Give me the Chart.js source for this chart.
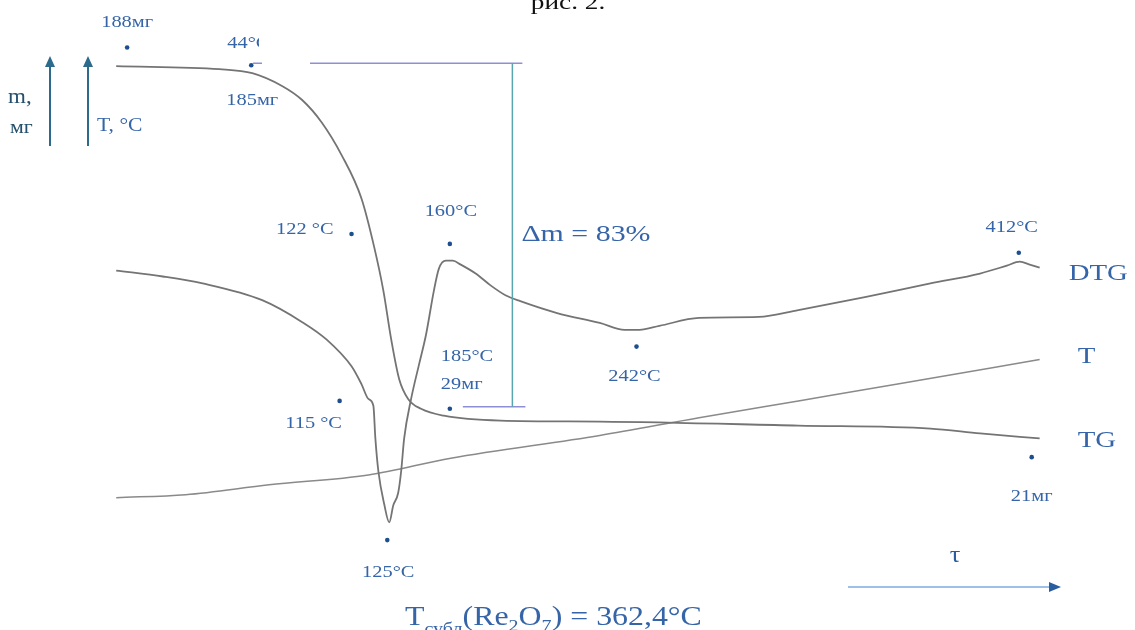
<!DOCTYPE html>
<html>
<head>
<meta charset="utf-8">
<script src="https://cdn.jsdelivr.net/npm/chart.js@4/dist/chart.umd.min.js"></script>
<style>
  html, body { margin: 0; padding: 0; background: #ffffff; }
  #wrap { width: 1135px; height: 630px; }
</style>
</head>
<body>
<div id="wrap"><canvas id="thermo" width="1135" height="630"></canvas></div>
<script>
// TG, DTG and T curves of the Re2O7 sample (arbitrary units)
const tgTau  = [11.3, 21.7, 25, 28, 30, 32, 34, 36, 37.3, 38.2, 39, 39.8, 40.7, 42, 44.3, 50, 60, 80, 93.3, 98.3, 104.3];
const tgMass = [56.7, 56.4, 56, 54.7, 53.3, 51, 47.7, 43.3, 38.3, 34, 29, 25, 23, 22, 21.3, 20.8, 20.7, 20.3, 20, 19.5, 19];

const dtgTau = [11.3, 16, 20, 26, 30, 32.5, 35, 36, 36.7, 37.2, 37.4, 37.7, 38.3, 38.8, 39.2, 39.7, 40, 40.3, 41, 41.8, 42.5, 43.3, 43.8, 44.5, 45.2, 46, 47.5, 49, 50.5, 52, 55.7, 60, 62.5, 64, 66, 70, 76, 80, 86.7, 93.3, 98.3, 101, 102.3, 103.3, 104.3];
const dtgVal = [36, 35.4, 34.7, 33, 30.8, 29, 26.3, 24.5, 23, 22.3, 19, 15.7, 12.3, 10.5, 12.2, 13.5, 15.7, 19, 23, 26.5, 29.5, 34, 36.2, 37, 37, 36.6, 35.7, 34.5, 33.5, 32.9, 31.7, 30.7, 30, 30, 30.4, 31.2, 31.3, 32, 33.3, 34.7, 35.7, 36.5, 36.9, 36.6, 36.3];

const tTau = [11.3, 18.3, 26.7, 36.7, 45, 60, 70, 80, 90, 104.3];
const tVal = [13, 13.3, 14.3, 15.3, 17, 19.3, 21.1, 22.8, 24.5, 27];

// marked points and their labels
const markTau    = [12.4, 24.9, 35, 44.9, 33.8, 44.9, 38.6, 63.7, 102.2, 103.5];
const markVal    = [58.6, 56.8, 39.7, 38.7, 22.8, 22, 8.7, 28.3, 37.8, 17.1];
const markLabels = [['188мг'], ['44°C', '185мг'], ['122 °C'], ['160°C'], ['115 °C'], ['185°C', '29мг'], ['125°C'], ['242°C'], ['412°C'], ['21мг']];

// mass loss bracket levels
const dmTau = 51.2;
const dmTop = 57;
const dmBottom = 22.2;
const dmText = 'Δm = 83%';

const curveNames = ['DTG', 'T', 'TG'];

// label placement relative to each marked point, in pixels
const labelOffsets = [
  [[0, -25, 'center']],
  [[-24, -22, 'left'], [1, 35, 'center']],
  [[-18, -5, 'right']],
  [[1, -32, 'center']],
  [[-26, 23, 'center']],
  [[-9, -52, 'left'], [-9, -24, 'left']],
  [[1, 32, 'center']],
  [[-2, 30, 'center']],
  [[-7, -25, 'center']],
  [[0, 39, 'center']]
];

const blue = '#3565a8';
const dotBlue = '#1d4f8e';
const curveGray = '#747474';

function pts(xs, ys) { return xs.map((x, i) => ({ x: x, y: ys[i] })); }

function txt(ctx, s, x, y, size, color, align, sx) {
  ctx.save();
  ctx.translate(x, y);
  ctx.scale(sx || 1.2, 1);
  ctx.font = size + 'px "Liberation Serif", "DejaVu Serif", serif';
  ctx.fillStyle = color;
  ctx.textAlign = align || 'center';
  ctx.textBaseline = 'middle';
  ctx.fillText(s, 0, 0);
  ctx.restore();
}

function arrowUp(ctx, x, yTop, yBottom, color) {
  ctx.save();
  ctx.strokeStyle = color;
  ctx.fillStyle = color;
  ctx.lineWidth = 2;
  ctx.beginPath();
  ctx.moveTo(x, yBottom);
  ctx.lineTo(x, yTop + 8);
  ctx.stroke();
  ctx.beginPath();
  ctx.moveTo(x, yTop);
  ctx.lineTo(x - 5, yTop + 11);
  ctx.lineTo(x + 5, yTop + 11);
  ctx.closePath();
  ctx.fill();
  ctx.restore();
}

const annotate = {
  id: 'annotate',
  afterDraw(chart) {
    const ctx = chart.ctx;
    const xs = chart.scales.x, ys = chart.scales.y;
    const X = v => xs.getPixelForValue(v), Y = v => ys.getPixelForValue(v);

    // figure caption, cut at the top edge
    txt(ctx, 'рис. 2.', 568, 3, 21, '#111111', 'center', 1.3);

    // point labels
    markLabels.forEach((lines, i) => {
      lines.forEach((s, j) => {
        const o = labelOffsets[i][j];
        txt(ctx, s, X(markTau[i]) + o[0], Y(markVal[i]) + o[1], 17, blue, o[2], 1.2);
      });
    });

    // paper patch hiding part of "44°C"
    ctx.fillStyle = '#ffffff';
    ctx.fillRect(259, 14, 51, 44);

    // mass loss bracket
    ctx.save();
    ctx.lineWidth = 1.5;
    ctx.strokeStyle = '#8f8fd6';
    ctx.beginPath();
    ctx.moveTo(253, Y(dmTop)); ctx.lineTo(262, Y(dmTop));
    ctx.moveTo(310, Y(dmTop)); ctx.lineTo(X(dmTau) + 10, Y(dmTop));
    ctx.moveTo(X(markTau[5]) + 13, Y(dmBottom)); ctx.lineTo(X(dmTau) + 13, Y(dmBottom));
    ctx.stroke();
    ctx.strokeStyle = '#5aa5ad';
    ctx.beginPath();
    ctx.moveTo(X(dmTau), Y(dmTop)); ctx.lineTo(X(dmTau), Y(dmBottom));
    ctx.stroke();
    ctx.restore();
    txt(ctx, dmText, X(dmTau) + 9, Y(dmTop) + 172, 23, blue, 'left', 1.3);

    // curve names at the right end
    const ends = [dtgVal[dtgVal.length - 1], tVal[tVal.length - 1], tgMass[tgMass.length - 1]];
    const nameDx = [29, 38, 38];
    curveNames.forEach((n, i) => {
      txt(ctx, n, X(104.3) + nameDx[i], Y(ends[i]) + [6, -3, 2][i], 24, blue, 'left', 1.2);
    });

    // axis arrows on the left
    arrowUp(ctx, 50, 56, 146, '#2d6b8c');
    arrowUp(ctx, 88, 56, 146, '#2d6b8c');
    txt(ctx, 'm,', 8, 98, 20, '#24506e', 'left', 1.15);
    txt(ctx, 'мг', 10, 128, 19, '#24506e', 'left', 1.15);
    txt(ctx, 'T, °C', 97, 126, 18, blue, 'left', 1.2);

    // time arrow
    ctx.save();
    ctx.strokeStyle = '#9cc0e6';
    ctx.lineWidth = 2;
    ctx.beginPath();
    ctx.moveTo(848, 587); ctx.lineTo(1052, 587);
    ctx.stroke();
    ctx.fillStyle = '#2a5ca0';
    ctx.beginPath();
    ctx.moveTo(1061, 587); ctx.lineTo(1049, 582); ctx.lineTo(1049, 592);
    ctx.closePath();
    ctx.fill();
    ctx.restore();
    txt(ctx, 'τ', 955, 556, 24, '#2a5ca0', 'center', 1.1);

    // sublimation temperature
    ctx.save();
    let x = 405;
    const base = 625;
    const parts = [['T', 27, 0], ['субл', 17, 9], ['(Re', 27, 0], ['2', 17, 6], ['O', 27, 0], ['7', 17, 6], [') = 362,4°C', 27, 0]];
    parts.forEach(p => {
      ctx.save();
      ctx.translate(x, base + p[2]);
      ctx.scale(1.18, 1);
      ctx.font = p[1] + 'px "Liberation Serif", serif';
      ctx.fillStyle = blue;
      ctx.textAlign = 'left';
      ctx.textBaseline = 'alphabetic';
      ctx.fillText(p[0], 0, 0);
      x += ctx.measureText(p[0]).width * 1.18;
      ctx.restore();
    });
    ctx.restore();
  }
};

const lineStyle = {
  borderColor: curveGray,
  borderWidth: 1.8,
  pointRadius: 0,
  fill: false,
  cubicInterpolationMode: 'monotone'
};

new Chart(document.getElementById('thermo'), {
  type: 'line',
  data: {
    datasets: [
      Object.assign({ label: 'TG', data: pts(tgTau, tgMass) }, lineStyle),
      Object.assign({ label: 'DTG', data: pts(dtgTau, dtgVal) }, lineStyle),
      Object.assign({ label: 'T', data: pts(tTau, tVal) }, lineStyle, { borderColor: '#8a8a8a', borderWidth: 1.5 }),
      {
        label: 'marks',
        type: 'scatter',
        data: pts(markTau, markVal),
        pointRadius: 2.3,
        pointBackgroundColor: dotBlue,
        pointBorderWidth: 0,
        showLine: false
      }
    ]
  },
  options: {
    responsive: false,
    animation: false,
    layout: { padding: 0 },
    plugins: {
      legend: { display: false },
      tooltip: { enabled: false },
      title: { display: false }
    },
    scales: {
      x: { type: 'linear', min: 0, max: 113.5, display: false },
      y: { type: 'linear', min: 0, max: 63, display: false }
    }
  },
  plugins: [annotate]
});
</script>
</body>
</html>
